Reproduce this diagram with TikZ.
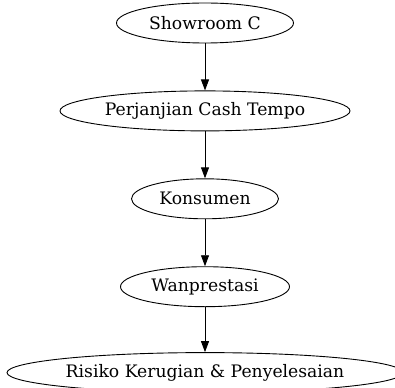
\documentclass[tikz,border=0pt]{standalone}
\usepackage{fontspec}
\setmainfont{DejaVu Serif}
\usetikzlibrary{shapes,arrows.meta,positioning}

\begin{document}
\begin{tikzpicture}[x=1pt,y=1pt]
		\tikzstyle{stage} = [draw, ellipse, line width=0.9pt, inner sep=0pt,
		minimum height=40pt, font=\fontsize{17.2}{19}\selectfont];
		\tikzstyle{flow} = [line width=0.9pt, -{Triangle[length=11pt,width=8pt]}];
		\useasboundingbox (0,0) rectangle (395,-387);
		\node[stage, minimum width=177pt] (showroom) at (205,-23) {Showroom C};
		\node[stage, minimum width=290pt, below=47pt of showroom] (perjanjian) {Perjanjian Cash Tempo};
		\node[stage, minimum width=147pt, below=47pt of perjanjian] (konsumen) {Konsumen};
		\node[stage, minimum width=169pt, below=47pt of konsumen] (wanprestasi) {Wanprestasi};
		\node[stage, minimum width=396pt, below=45pt of wanprestasi] (risiko) {Risiko Kerugian \& Penyelesaian};
		\draw[flow] (showroom) to (perjanjian);
		\draw[flow] (perjanjian) to (konsumen);
		\draw[flow] (konsumen) to (wanprestasi);
		\draw[flow] (wanprestasi) to (risiko);
	\end{tikzpicture}
\end{document}
